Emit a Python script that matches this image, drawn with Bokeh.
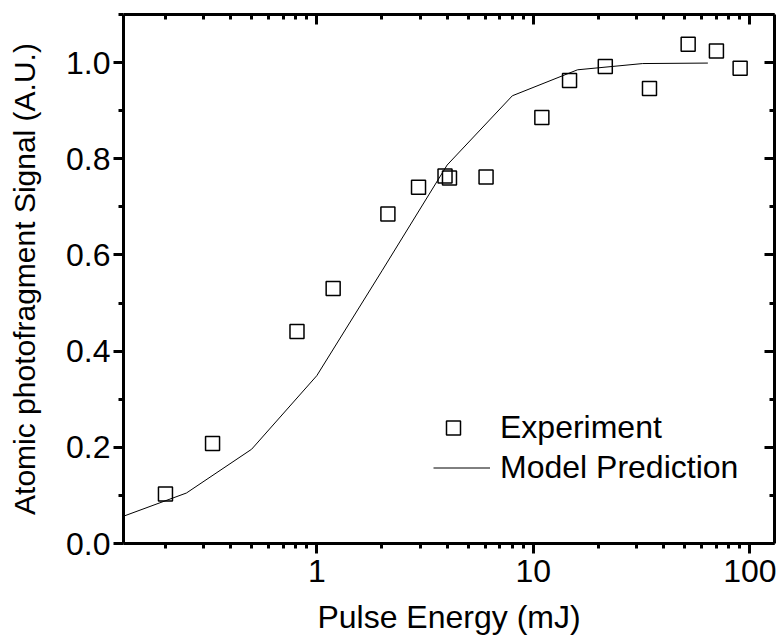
from bokeh.plotting import figure
from bokeh.models import (LogAxis, LinearAxis, Range1d, FixedTicker, Legend, LegendItem,
                          PrintfTickFormatter)
from bokeh.embed import file_html
from bokeh.resources import INLINE

# ---- data ----
exp_energy = [0.2, 0.33, 0.81, 1.19, 2.13, 2.95, 3.91, 4.10, 6.05, 10.95, 14.7, 21.5, 34.4, 51.9, 70.1, 90.2]
exp_signal = [0.103, 0.208, 0.441, 0.530, 0.685, 0.741, 0.764, 0.760, 0.762, 0.886, 0.963, 0.992, 0.946, 1.038, 1.024, 0.988]

model_energy = [0.125, 0.25, 0.5, 1, 2, 4, 8, 16, 32, 64]
model_signal = [0.055, 0.105, 0.196, 0.349, 0.567, 0.787, 0.931, 0.985, 0.998, 0.999]

x_major = [1, 10, 100]
x_minor = [0.2, 0.3, 0.4, 0.5, 0.6, 0.7, 0.8, 0.9,
           2, 3, 4, 5, 6, 7, 8, 9,
           20, 30, 40, 50, 60, 70, 80, 90]
y_major = [0.0, 0.2, 0.4, 0.6, 0.8, 1.0]
y_minor = [0.1, 0.3, 0.5, 0.7, 0.9, 1.1]

FONT = "Liberation Sans"
TICK_SIZE = "32px"

p = figure(width=778, height=637, x_axis_type="log",
           x_range=Range1d(0.128, 130), y_range=Range1d(0, 1.1),
           output_backend="svg", toolbar_location=None,
           min_border_left=123, min_border_right=4, min_border_top=14, min_border_bottom=94)
p.xgrid.visible = False
p.ygrid.visible = False
p.outline_line_color = None
p.background_fill_color = "white"
p.border_fill_color = "white"

line = p.line(model_energy, model_signal, line_color="black", line_width=1)
sq = p.scatter(exp_energy, exp_signal, marker="square", size=14,
               fill_color=None, line_color="black", line_width=1.5)

xt = FixedTicker(ticks=x_major, minor_ticks=x_minor)
yt = FixedTicker(ticks=y_major, minor_ticks=y_minor)


def style(ax, tin, tout, labels, label_size="32px"):
    ax.axis_line_width = 3
    ax.axis_line_color = "black"
    ax.major_tick_line_width = 3
    ax.minor_tick_line_width = 3
    ax.major_tick_line_color = "black"
    ax.minor_tick_line_color = "black"
    ax.major_tick_in = tin[0]
    ax.major_tick_out = tout[0]
    ax.minor_tick_in = tin[1]
    ax.minor_tick_out = tout[1]
    ax.major_label_text_font = FONT
    if labels:
        ax.major_label_text_font_size = TICK_SIZE
        ax.major_label_text_color = "black"
        ax.axis_label_text_font = FONT
        ax.axis_label_text_font_size = label_size
        ax.axis_label_text_font_style = "normal"
        ax.axis_label_text_color = "black"
    else:
        ax.major_label_text_font_size = "1px"
        ax.major_label_text_alpha = 0
        ax.major_label_standoff = 0


xa = p.xaxis[0]
xa.ticker = xt
xa.formatter = PrintfTickFormatter(format="%d")
xa.axis_label = "Pulse Energy (mJ)"
style(xa, (0, 0), (10, 5), True, "32px")
xa.major_label_standoff = 6
xa.axis_label_standoff = 14

ya = p.yaxis[0]
ya.ticker = yt
ya.formatter = PrintfTickFormatter(format="%.1f")
ya.axis_label = "Atomic photofragment Signal (A.U.)"
style(ya, (0, 0), (10, 5), True, "30px")
ya.major_label_standoff = 3
ya.axis_label_standoff = 22

top = LogAxis(ticker=FixedTicker(ticks=x_major, minor_ticks=x_minor))
style(top, (10, 5), (0, 0), False)
p.add_layout(top, "above")

right = LinearAxis(ticker=FixedTicker(ticks=y_major, minor_ticks=y_minor))
style(right, (10, 5), (0, 0), False)
p.add_layout(right, "right")

leg1 = Legend(items=[LegendItem(label="Experiment", renderers=[sq])],
              location=(310, 97), glyph_width=40, glyph_height=35, label_standoff=27)
leg2 = Legend(items=[LegendItem(label="Model Prediction", renderers=[line])],
              location=(310, 57), glyph_width=57, glyph_height=35, label_standoff=10)
for lg in (leg1, leg2):
    lg.border_line_color = None
    lg.background_fill_alpha = 0
    lg.padding = 0
    lg.margin = 0
    lg.spacing = 0
    lg.label_text_font = FONT
    lg.label_text_font_size = "32px"
    lg.label_text_color = "black"
    p.add_layout(lg)

open("out.html", "w").write(file_html(p, INLINE))
